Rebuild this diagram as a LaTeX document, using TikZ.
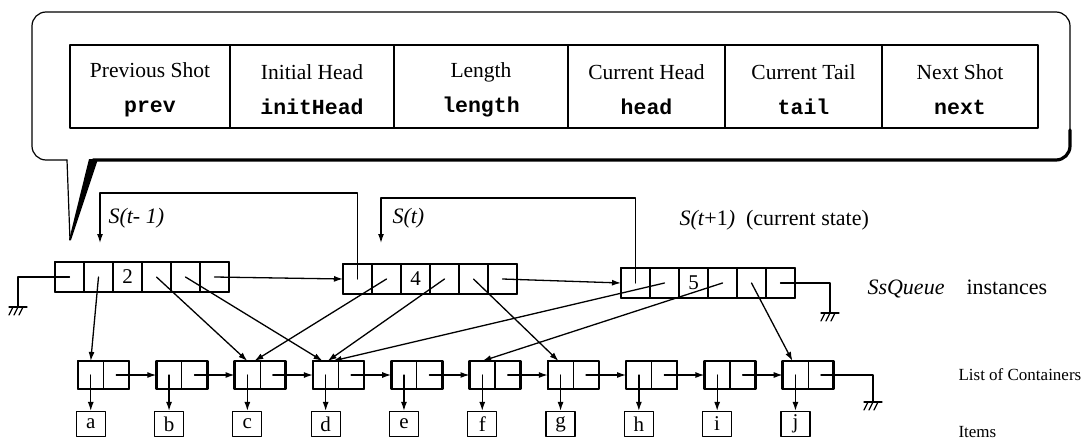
\documentclass[tikz,border=0pt]{standalone}
\usepackage{fontspec}
\setmainfont{Liberation Serif}
\setmonofont{Liberation Mono}
\usetikzlibrary{arrows.meta}
\tikzset{
  wire/.style={line width=1.3pt},
  ptr/.style={wire,-{Latex[length=9pt,width=6pt]}},
  qcell/.style={draw,line width=1.2pt,minimum width=29pt,minimum height=30pt,inner sep=0pt,outer sep=0pt},
  kcell/.style={draw,line width=1.2pt,minimum width=25.5pt,minimum height=28pt,inner sep=0pt,outer sep=0pt},
  item/.style={draw,line width=1.2pt,minimum width=29pt,minimum height=25pt,inner sep=0pt},
  field/.style={draw,line width=2.4pt,minimum height=83pt,inner sep=0pt},
  fieldtext/.style={align=center,font=\fontsize{21.5}{35}\selectfont},
  state/.style={anchor=west,font=\fontsize{22}{26}\selectfont},
  side/.style={anchor=west,font=\fontsize{17}{21}\selectfont},
  frame/.style={line width=2.6pt}
}
\newcommand{\earth}[1]{%
  \draw[line width=1.2pt] ([xshift=-9pt]#1) -- ([xshift=9pt]#1);
  \foreach \dx in {-5,0,5} \draw[line width=1.2pt] ([xshift=\dx pt]#1) -- ([xshift=\dx pt-4pt,yshift=-8pt]#1);}
\begin{document}
\begin{tikzpicture}[x=1pt,y=-1pt,line cap=round,line join=round,font=\fontsize{21}{25}\selectfont]
  \useasboundingbox (0,0) rectangle (1090,442);
  % callout
  \draw[line width=1.2pt,rounded corners=14pt] (67,160) -- (32,160) -- (32,12) -- (1070,12) -- (1070,160) -- (93,160);
  \draw[line width=3.2pt,rounded corners=14pt] (93,160) -- (1070,160) -- (1070,130);
  \draw[line width=1.2pt] (67,160) -- (70,240);
  \fill (89,159) -- (98,159) -- (71,240) -- (69,240) -- cycle;
  \foreach \x/\w/\name/\code in {150/160/Previous Shot/prev,312/164/Initial Head/initHead,481/174/Length/length,
      646.5/157/Current Head/head,803.5/157/Current Tail/tail,960/156/Next Shot/next} {
    \node[field,minimum width=\w pt] (f\code) at (\x,86.5) {};
    \node[fieldtext] (t\code) at ([yshift=-3pt]f\code.center) {\name\\\texttt{\textbf{\code}}};
  }
  % SsQueue instances
  \foreach \q/\x/\y/\len in {1/55/277/2,2/343/279/4,3/621/283/5} {
    \foreach \k in {1,...,6} \node[qcell] (q\q-\k) at (\x+29*\k-14.5,\y) {};
    \node (n\q) at (q\q-3) {\len};
    \draw[frame] (q\q-1.north west) rectangle (q\q-6.south east);
  }
  \node[state] (ls1) at (105,218) {\textit{S(t- 1)}};
  \node[state] (ls2) at (389,218) {\textit{S(t)}};
  \node[state] (ls3) at (676,220) {\textit{S(t}+1\textit{)}\ \ (current state)};
  \coordinate (s1) at (100,243);
  \coordinate (s2) at (381,243);
  \draw[ptr] (q2-1.center) |- (100,193) -- (s1);
  \draw[ptr] (q3-1.center) |- (381,198) -- (s2);
  \draw[ptr] (q1-6.center) -- (q2-1.west);
  \draw[ptr] (q2-6.center) -- (q3-1.west);
  \coordinate (g1) at (18,307);
  \coordinate (g3) at (830,313);
  \draw[wire] (q1-1.center) -| (g1);
  \draw[wire] (q3-6.center) -| (g3);
  \earth{g1}
  \earth{g3}
  % list of containers and items
  \foreach \n [count=\i from 0] in {a,b,c,d,e,f,g,h,i,j} {
    \node[kcell] (l\n) at (78+78.3*\i+12.75,375) {};
    \node[kcell] (r\n) at (78+78.3*\i+38.25,375) {};
    \draw[frame] (l\n.north west) rectangle (r\n.south east);
    \node[item] (it\n) at ([yshift=-49pt]l\n.center) {\n};
    \draw[ptr] (l\n.center) -- (it\n.north);
  }
  \foreach \n/\m in {a/b,b/c,c/d,d/e,e/f,f/g,g/h,h/i,i/j}
    \draw[ptr] (r\n.center) -- (l\m.west);
  \coordinate (gj) at (873,402);
  \draw[wire] (rj.center) -| (gj);
  \earth{gj}
  % queue pointers into the list
  \draw[ptr] (q1-2.center) -- (la.north);
  \draw[ptr] (q1-4.center) -- (lc.north);
  \draw[ptr] (q1-5.center) -- ([xshift=-3pt]ld.north);
  \draw[ptr] (q2-2.center) -- ([xshift=7pt]lc.north);
  \draw[ptr] (q2-4.center) -- ([xshift=2pt]ld.north);
  \draw[ptr] (q2-5.center) -- ([xshift=-2pt]lg.north);
  \draw[ptr] (q3-2.center) -- ([xshift=7pt]ld.north);
  \draw[ptr] (q3-4.center) -- (lf.north);
  \draw[ptr] (q3-5.center) -- ([xshift=-3pt]lj.north);
  \node[state] (lq) at (864,289) {\textit{SsQueue}\quad instances};
  \node[side] (lk) at (955,375) {List of Containers};
  \node[side] (li) at (955,432) {Items};
\end{tikzpicture}
\end{document}
